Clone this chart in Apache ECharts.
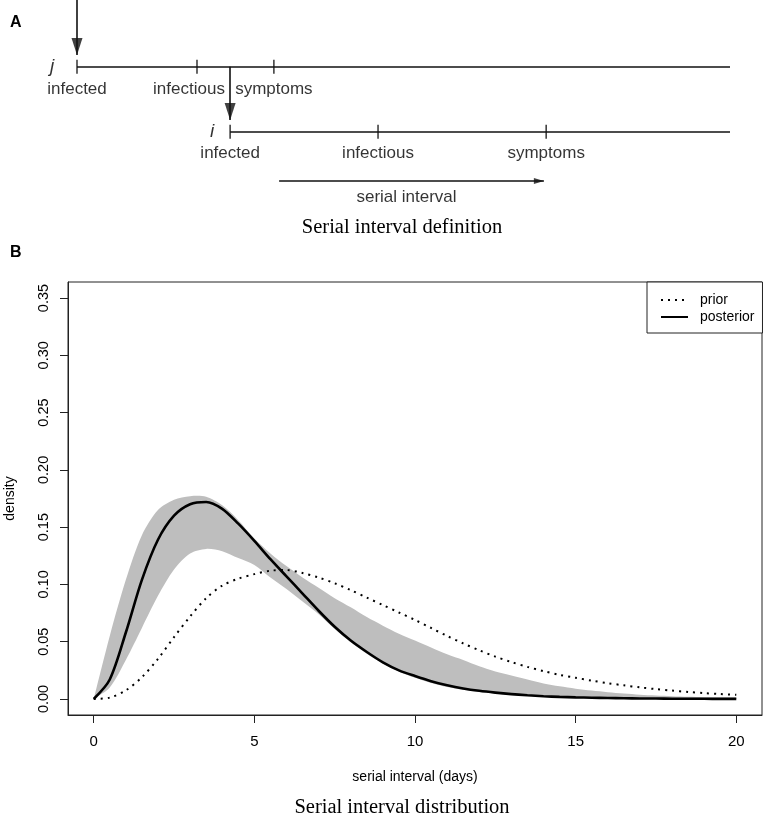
<!DOCTYPE html>
<html><head><meta charset="utf-8">
<script src="https://cdn.jsdelivr.net/npm/echarts@6/dist/echarts.min.js"></script>
<style>html,body{margin:0;padding:0;background:#fff}#c{width:765px;height:822px}</style>
</head><body><div id="c"></div>
<script>
// ---------- Panel B data ----------
var serialDays = [0,0.5,1,1.5,2,2.5,3,3.5,4,4.5,5,5.5,6,6.5,7,7.5,8,8.5,9,9.5,10,10.5,11,11.5,12,12.5,13,13.5,14,14.5,15,15.5,16,16.5,17,17.5,18,18.5,19,19.5,20];
var priorDensity = [0,0.0012,0.0075,0.019,0.035,0.054,0.072,0.088,0.099,0.105,0.109,0.112,0.1125,0.110,0.106,0.101,0.095,0.0885,0.082,0.0755,0.069,0.062,0.055,0.0485,0.0425,0.037,0.0322,0.028,0.0243,0.021,0.0185,0.016,0.0138,0.0119,0.0101,0.0086,0.0073,0.0061,0.0051,0.0043,0.0036];
var posteriorDensity = [0,0.017,0.058,0.104,0.139,0.160,0.170,0.172,0.166,0.153,0.138,0.122,0.107,0.092,0.077,0.063,0.051,0.041,0.032,0.025,0.020,0.0155,0.012,0.0092,0.0071,0.0055,0.0042,0.0032,0.0024,0.0018,0.0014,0.0011,0.0008,0.0006,0.00045,0.00034,0.00025,0.00018,0.00014,0.0001,0.00008];
var bandUpper = [0,0.055,0.104,0.143,0.165,0.174,0.177,0.1765,0.169,0.156,0.140,0.127,0.116,0.106,0.097,0.088,0.080,0.0715,0.064,0.057,0.051,0.045,0.039,0.034,0.0285,0.024,0.0205,0.017,0.0135,0.011,0.009,0.0073,0.0059,0.0047,0.0037,0.003,0.0024,0.0019,0.0015,0.0012,0.001];
var bandLower = [0,0.010,0.034,0.062,0.090,0.113,0.127,0.131,0.129,0.123,0.117,0.106,0.096,0.085,0.074,0.061,0.0495,0.0395,0.031,0.024,0.0185,0.014,0.0105,0.008,0.006,0.0046,0.0035,0.0026,0.002,0.0015,0.0011,0.0008,0.0006,0.00045,0.00034,0.00025,0.00018,0.00013,0.0001,0.00007,0.00005];
var xTicks = [0,5,10,15,20];
var yTicks = [0,0.05,0.10,0.15,0.20,0.25,0.30,0.35];

// ---------- Panel A schematic (positions on a hidden time axis) ----------
var eventNames = ['infected','infectious','symptoms'];
var jEvents = [0, 3.675, 6.03];
var iEvents = [4.69, 9.22, 14.37];
var timelineEnd = 20;
var rowJ = 1, rowI = 2, rowSerial = 2.76;
var topArrow = [-0.03, 0.82];     // rows: start, tip
var transArrowTip = 1.82;          // row of tip of j->i arrow
var serialArrow = [6.19, 14.3];    // time: start, tip

function pairs(xs, ys){ return xs.map(function(x,k){ return [x, ys[k]]; }); }

var FONT = 'Liberation Sans';
var ink = '#111';

var chart = echarts.init(document.getElementById('c'), null, {renderer:'canvas'});

var jLabels = jEvents.map(function(x,k){ return {value:[x,rowJ], name:eventNames[k], label:{offset:[k===1?-8:0, 23]}}; });
var iLabels = iEvents.map(function(x,k){ return {value:[x,rowI], name:eventNames[k], label:{offset:[0, 21.5]}}; });
var tickPts = jEvents.map(function(x){return [x,rowJ];}).concat(iEvents.map(function(x){return [x,rowI];}));

var option = {
  animation: false,
  backgroundColor: '#fff',
  title: [
    {text:'A', left:10, top:15, padding:0, textStyle:{fontFamily:FONT, fontWeight:'bold', fontSize:16, color:'#000'}},
    {text:'B', left:10, top:245, padding:0, textStyle:{fontFamily:FONT, fontWeight:'bold', fontSize:16, color:'#000'}},
    {text:'Serial interval definition', left:402, top:217, textAlign:'center', padding:0, textStyle:{fontFamily:'Liberation Serif', fontWeight:'normal', fontSize:20.5, color:'#000'}},
    {text:'Serial interval distribution', left:402, top:797, textAlign:'center', padding:0, textStyle:{fontFamily:'Liberation Serif', fontWeight:'normal', fontSize:20.5, color:'#000'}}
  ],
  legend: {
    data:['prior','posterior'], orient:'vertical', left:647, top:282,
    padding:[11,8,9,13], itemGap:3, itemWidth:27, itemHeight:14,
    borderColor:'#222', borderWidth:1, borderRadius:0, backgroundColor:'#fff',
    selectedMode:false,
    itemStyle:{color:'rgba(0,0,0,0)', borderColor:'rgba(0,0,0,0)', borderWidth:0, opacity:0},
    textStyle:{fontFamily:FONT, fontSize:14, color:'#000', padding:[0,0,0,7]}
  },
  grid: [
    {left:68, right:3, top:282, bottom:107, show:true, borderColor:'#222', borderWidth:1, backgroundColor:'transparent', containLabel:false, outerBoundsMode:'none'},
    {left:77, right:35, top:1.7, height:260, show:false, containLabel:false, outerBoundsMode:'none'}
  ],
  xAxis: [
    {type:'value', gridIndex:0, min:-0.8, max:20.8,
     name:'serial interval (days)', nameLocation:'middle', nameGap:55,
     nameTextStyle:{fontFamily:FONT, fontSize:14, color:'#000'},
     axisLine:{show:true, onZero:false, lineStyle:{color:'#222', width:1}},
     axisTick:{show:true, inside:false, customValues:xTicks, length:8, lineStyle:{color:'#222', width:1}},
     axisLabel:{show:true, customValues:xTicks, margin:19, fontFamily:FONT, fontSize:15, color:'#000'},
     splitLine:{show:false}},
    {type:'value', gridIndex:1, min:0, max:timelineEnd, show:false}
  ],
  yAxis: [
    {type:'value', gridIndex:0, min:-0.014, max:0.364,
     name:'density', nameLocation:'middle', nameGap:51, nameRotate:90,
     nameTextStyle:{fontFamily:FONT, fontSize:14, color:'#000'},
     axisLine:{show:true, onZero:false, lineStyle:{color:'#222', width:1}},
     axisTick:{show:true, inside:false, customValues:yTicks, length:8, lineStyle:{color:'#222', width:1}},
     axisLabel:{show:true, customValues:yTicks, rotate:90, margin:17, fontFamily:FONT, fontSize:14.5, color:'#000',
       formatter:function(v){ return (Math.round(v*100)/100).toFixed(2); }},
     splitLine:{show:false}},
    {type:'value', gridIndex:1, min:0, max:4, inverse:true, show:false}
  ],
  series: [
    // ---- Panel B ----
    {type:'custom', name:'band', xAxisIndex:0, yAxisIndex:0, data:[[0,0]], silent:true, z:1,
     renderItem:function(params, api){
       var pts = [];
       for (var k=0;k<serialDays.length;k++) pts.push(api.coord([serialDays[k], bandUpper[k]]));
       for (var k2=serialDays.length-1;k2>=0;k2--) pts.push(api.coord([serialDays[k2], bandLower[k2]]));
       return {type:'polygon', shape:{points:pts, smooth:0.3}, style:{fill:'#bebebe', stroke:null}};
     }},
    {type:'line', name:'prior', xAxisIndex:0, yAxisIndex:0, data:pairs(serialDays, priorDensity),
     symbol:'none', smooth:0.3, z:3, itemStyle:{color:'#000'},
     lineStyle:{color:'#000', width:2, type:[2,5]}},
    {type:'line', name:'posterior', xAxisIndex:0, yAxisIndex:0, data:pairs(serialDays, posteriorDensity),
     symbol:'none', smooth:0.3, z:4, itemStyle:{color:'#000'},
     lineStyle:{color:'#000', width:2.6}},
    // ---- Panel A ----
    {type:'lines', coordinateSystem:'cartesian2d', xAxisIndex:1, yAxisIndex:1, clip:false, silent:true,
     lineStyle:{color:ink, width:1.6, opacity:1},
     data:[
       {coords:[[jEvents[0],rowJ],[timelineEnd,rowJ]]},
       {coords:[[iEvents[0],rowI],[timelineEnd,rowI]]},
       {coords:[[jEvents[0],topArrow[0]],[jEvents[0],topArrow[1]]]},
       {coords:[[iEvents[0],rowJ],[iEvents[0],transArrowTip]]},
       {coords:[[serialArrow[0],rowSerial],[serialArrow[1],rowSerial]]}
     ]},
    {type:'scatter', xAxisIndex:1, yAxisIndex:1, silent:true, symbol:'rect', symbolSize:[1.6,14],
     itemStyle:{color:ink}, data:tickPts},
    {type:'scatter', xAxisIndex:1, yAxisIndex:1, silent:true, symbol:'triangle', itemStyle:{color:ink},
     data:[
       {value:[jEvents[0],topArrow[1]], symbolSize:[11,17], symbolRotate:180, symbolOffset:[0,-8.5]},
       {value:[iEvents[0],transArrowTip], symbolSize:[11,17], symbolRotate:180, symbolOffset:[0,-8.5]},
       {value:[serialArrow[1],rowSerial], symbolSize:[6,10], symbolRotate:-90, symbolOffset:[-5,0]}
     ]},
    {type:'scatter', xAxisIndex:1, yAxisIndex:1, silent:true, symbolSize:1, itemStyle:{color:'rgba(0,0,0,0)'},
     label:{show:true, position:'inside', formatter:'{b}', fontFamily:FONT, fontSize:17, color:'#000'},
     data: jLabels.concat(iLabels).concat([
       {value:[(serialArrow[0]+serialArrow[1])/2, rowSerial], name:'serial interval', label:{offset:[-5,16]}}
     ])},
    {type:'scatter', xAxisIndex:1, yAxisIndex:1, silent:true, symbolSize:1, itemStyle:{color:'rgba(0,0,0,0)'},
     label:{show:true, position:'inside', formatter:'{b}', fontFamily:FONT, fontStyle:'italic', fontSize:19, color:'#000'},
     data:[
       {value:[jEvents[0],rowJ], name:'j', label:{offset:[-25,0]}},
       {value:[iEvents[0],rowI], name:'i', label:{offset:[-18,0]}}
     ]}
  ]
};
chart.setOption(option);
</script>
</body></html>
